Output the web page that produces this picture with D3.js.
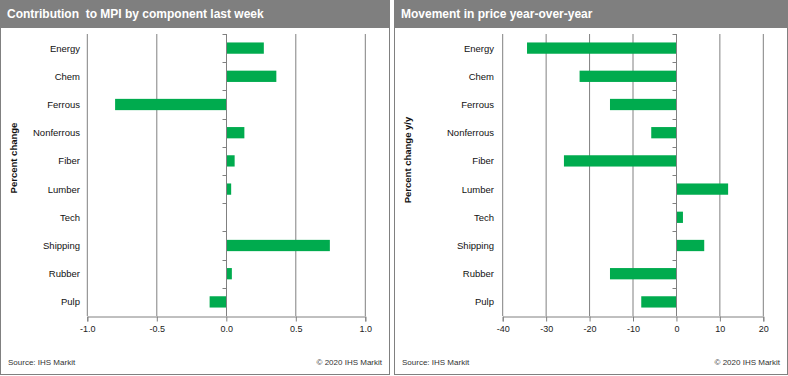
<!DOCTYPE html>
<html>
<head>
<meta charset="utf-8">
<script src="https://cdn.jsdelivr.net/npm/d3@7"></script>
<style>
  body { margin: 0; background: #fff; }
  svg { display: block; font-family: "Liberation Sans", Arial, sans-serif; }
</style>
</head>
<body>
<div id="chart"></div>
<script>
const categories = ["Energy", "Chem", "Ferrous", "Nonferrous", "Fiber", "Lumber", "Tech", "Shipping", "Rubber", "Pulp"];
const contribution = [0.27, 0.36, -0.80, 0.13, 0.06, 0.035, 0, 0.745, 0.04, -0.12];
const movementYoY = [-34.4, -22.3, -15.3, -5.8, -25.9, 11.9, 1.5, 6.4, -15.3, -8.1];
const leftTicks = [-1.0, -0.5, 0.0, 0.5, 1.0];
const rightTicks = [-40, -30, -20, -10, 0, 10, 20];

const width = 788;
const height = 376;
const green = "#00ab4e";
const grey = "#808080";

const svg = d3.select("#chart")
  .append("svg")
  .attr("width", width)
  .attr("height", height);

function panel(opt) {
  const g = svg.append("g").attr("transform", `translate(${opt.x},0)`);

  // frame + header
  g.append("rect")
    .attr("x", 0.5).attr("y", 0.5)
    .attr("width", opt.w - 1).attr("height", 374)
    .attr("fill", "white").attr("stroke", grey);
  g.append("rect")
    .attr("x", 0).attr("y", 0)
    .attr("width", opt.w).attr("height", 28)
    .attr("fill", "#7f7f7f");
  g.append("text")
    .attr("x", 7).attr("y", 18)
    .attr("fill", "white")
    .style("font-size", "12px")
    .style("font-weight", "bold")
    .style("white-space", "pre")
    .text(opt.title);

  const xScale = d3.scaleLinear()
    .domain(opt.domain)
    .range([opt.left, opt.right]);

  const yScale = d3.scaleBand()
    .domain(categories)
    .range([34, 316])
    .paddingInner(0.6)
    .paddingOuter(0.3);

  // grid lines
  g.append("g")
    .selectAll("line")
    .data(opt.ticks.filter((d) => d !== 0))
    .enter()
    .append("line")
    .attr("x1", (d) => xScale(d)).attr("x2", (d) => xScale(d))
    .attr("y1", 34).attr("y2", 316)
    .attr("stroke", grey);

  // bars
  g.append("g")
    .selectAll("rect")
    .data(categories.map((c, i) => ({ c, v: opt.values[i] })))
    .enter()
    .append("rect")
    .attr("x", (d) => Math.min(xScale(0), xScale(d.v)))
    .attr("y", (d) => yScale(d.c))
    .attr("width", (d) => Math.abs(xScale(d.v) - xScale(0)))
    .attr("height", yScale.bandwidth())
    .attr("fill", green);

  // category axis at zero
  const x0 = Math.round(xScale(0)) + 0.5;
  g.append("line")
    .attr("x1", x0).attr("x2", x0)
    .attr("y1", 34).attr("y2", 316)
    .attr("stroke", grey);
  const step = yScale.step();
  const boundaries = d3.range(categories.length).map((i) => 34 + i * step);
  g.append("g")
    .selectAll("line")
    .data(boundaries)
    .enter()
    .append("line")
    .attr("x1", x0 - 4).attr("x2", x0)
    .attr("y1", (d) => Math.round(d) + 0.5).attr("y2", (d) => Math.round(d) + 0.5)
    .attr("stroke", grey);

  // category labels
  g.append("g")
    .selectAll("text")
    .data(categories)
    .enter()
    .append("text")
    .attr("x", opt.labelX)
    .attr("y", (d) => yScale(d) + yScale.bandwidth() / 2 + 3.5)
    .attr("text-anchor", "end")
    .attr("fill", "#111")
    .style("font-size", "9.5px")
    .text((d) => d);

  // value axis
  const xAxis = d3.axisBottom(xScale)
    .tickValues(opt.ticks)
    .tickSize(5)
    .tickPadding(4)
    .tickFormat(opt.format);
  const ax = g.append("g")
    .attr("transform", "translate(0,316.5)")
    .call(xAxis);
  ax.select(".domain").attr("stroke", grey);
  ax.selectAll(".tick line").attr("stroke", grey);
  ax.selectAll("text")
    .attr("fill", "#222")
    .style("font-family", "Liberation Sans, Arial, sans-serif")
    .style("font-size", "9px");

  // axis title
  g.append("text")
    .attr("transform", `translate(${opt.titleX},${opt.titleY}) rotate(-90)`)
    .attr("text-anchor", "middle")
    .attr("fill", "#111")
    .style("font-size", "9.5px")
    .style("font-weight", "bold")
    .text(opt.yTitle);

  // footer
  g.append("text")
    .attr("x", 8).attr("y", 365)
    .attr("fill", "#333")
    .style("font-size", "8px")
    .text("Source: IHS Markit");
  g.append("text")
    .attr("x", opt.w - 8).attr("y", 365)
    .attr("text-anchor", "end")
    .attr("fill", "#333")
    .style("font-size", "8px")
    .text("© 2020 IHS Markit");
}

const fmtLeft = (d) => d3.format(".1f")(d).replace("−", "-");
const fmtRight = (d) => String(d);

panel({
  x: 0, w: 390,
  title: "Contribution  to MPI by component last week",
  domain: [-1, 1], left: 87.3, right: 365.3,
  ticks: leftTicks, values: contribution, format: fmtLeft,
  labelX: 80, titleX: 17, titleY: 158, yTitle: "Percent change"
});

panel({
  x: 394, w: 394,
  title: "Movement in price year-over-year",
  domain: [-40, 20], left: 108.7, right: 369.3,
  ticks: rightTicks, values: movementYoY, format: fmtRight,
  labelX: 100, titleX: 17, titleY: 160, yTitle: "Percent change y/y"
});
</script>
</body>
</html>
